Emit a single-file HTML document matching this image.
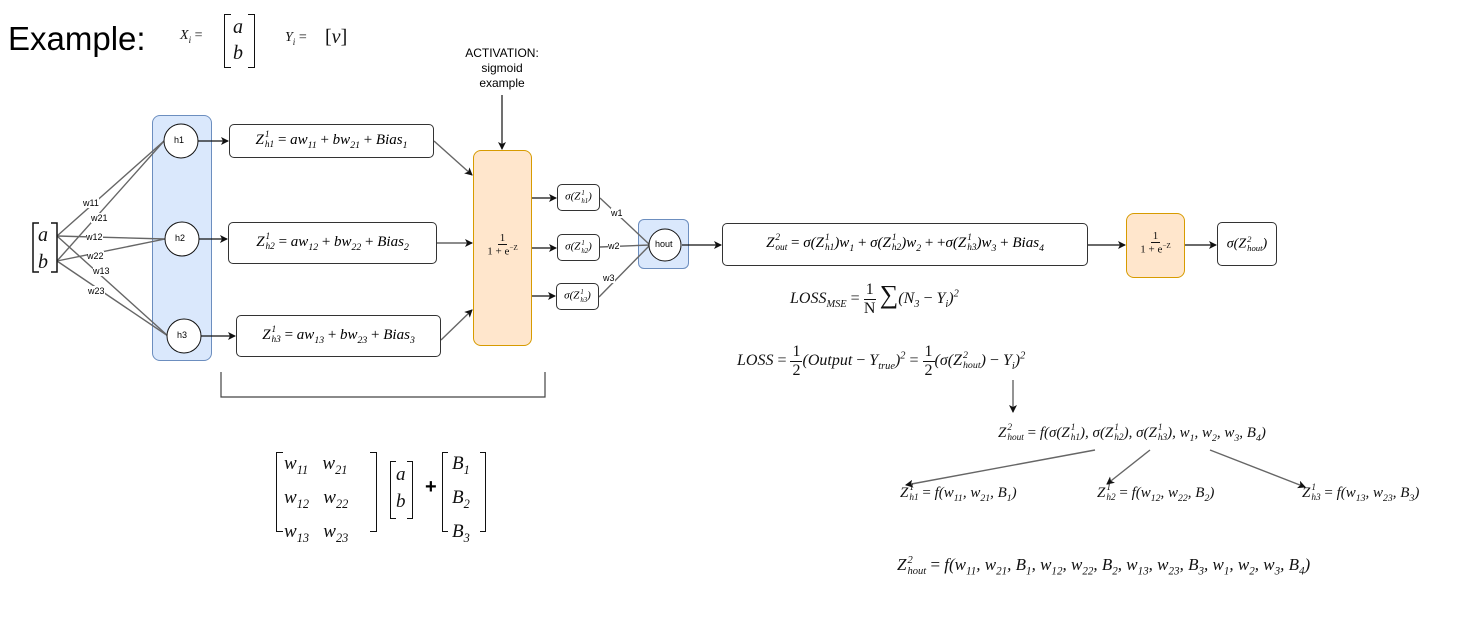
<!DOCTYPE html>
<html><head><meta charset="utf-8"><style>
body{margin:0;width:1458px;height:618px;background:#fff;position:relative;overflow:hidden;font-family:"Liberation Sans",sans-serif}
.a{position:absolute;white-space:nowrap}
.m{font-family:"Liberation Serif",serif;font-style:italic;color:#111}
.m sub,.m sup{font-size:65%}
.box{position:absolute;border:1px solid #333;border-radius:5px;background:#fff;display:flex;align-items:center;justify-content:center;font-family:"Liberation Serif",serif;font-style:italic;white-space:nowrap;box-sizing:border-box}
.box sub,.box sup{font-size:65%}
.up{font-style:normal}
.ss{display:inline-flex;flex-direction:column;vertical-align:middle;font-size:62%;line-height:1.05;margin-left:1px}
.fr{display:inline-flex;flex-direction:column;align-items:center;vertical-align:middle;font-style:normal;line-height:1.1}
.fr span:first-child{border-bottom:1px solid #111;padding:0 2px}
.lbl{position:absolute;font-size:9px;background:#fff;line-height:10px;font-family:"Liberation Sans",sans-serif}
</style></head><body>
<div class="a" style="left:8px;top:20px;font-size:33px">Example:</div>
<div class="a m" style="left:180px;top:28px;font-size:14px">X<sub>i</sub> <span class="up">=</span></div>
<div class="a" style="left:224px;top:14px;width:6px;height:52px;border:1.5px solid #111;border-right:none"></div>
<div class="a" style="left:248px;top:14px;width:6px;height:52px;border:1.5px solid #111;border-left:none"></div>
<div class="a m" style="left:233px;top:14px;font-size:20px;line-height:26px">a<br>b</div>
<div class="a m" style="left:285px;top:30px;font-size:14px">Y<sub>i</sub> <span class="up">=</span></div>
<div class="a m" style="left:325px;top:26px;font-size:20px"><span class="up">[</span>v<span class="up">]</span></div>

<div class="a" style="left:452px;top:46px;width:100px;text-align:center;font-size:12px;line-height:15px">ACTIVATION:<br>sigmoid<br>example</div>

<div class="a" style="left:152px;top:115px;width:60px;height:246px;background:#dae8fc;border:1px solid #6c8ebf;border-radius:8px;box-sizing:border-box"></div>
<div class="a" style="left:473px;top:150px;width:59px;height:196px;background:#ffe6cc;border:1px solid #d79b00;border-radius:8px;box-sizing:border-box"></div>
<div class="a" style="left:638px;top:219px;width:51px;height:50px;background:#dae8fc;border:1px solid #6c8ebf;border-radius:6px;box-sizing:border-box"></div>
<div class="a" style="left:1126px;top:213px;width:59px;height:65px;background:#ffe6cc;border:1px solid #d79b00;border-radius:8px;box-sizing:border-box"></div>

<svg class="a" style="left:0;top:0" width="1458" height="618">
<defs><marker id="ar" markerWidth="8" markerHeight="8" refX="7" refY="4" orient="auto" markerUnits="userSpaceOnUse"><path d="M0,0 L8,4 L0,8 L2,4z" fill="#111"/></marker></defs>
<g stroke="#666" stroke-width="1.4" fill="none">
<line x1="57" y1="236" x2="164" y2="141"/><line x1="57" y1="261" x2="164" y2="141"/>
<line x1="57" y1="236" x2="165" y2="239"/><line x1="57" y1="261" x2="165" y2="239"/>
<line x1="57" y1="236" x2="168" y2="336"/><line x1="57" y1="261" x2="168" y2="336"/>
<line x1="600" y1="198" x2="650" y2="245"/><line x1="600" y1="247" x2="650" y2="245"/><line x1="599" y1="297" x2="650" y2="245"/>
<line x1="434" y1="141" x2="472" y2="175" marker-end="url(#ar)"/>
<line x1="437" y1="243" x2="472" y2="243" marker-end="url(#ar)"/>
<line x1="441" y1="340" x2="472" y2="310" marker-end="url(#ar)"/>
<line x1="1095" y1="450" x2="906" y2="485" marker-end="url(#ar)"/>
<line x1="1150" y1="450" x2="1107" y2="484" marker-end="url(#ar)"/>
<line x1="1210" y1="450" x2="1305" y2="487" marker-end="url(#ar)"/>
<line x1="1013" y1="380" x2="1013" y2="412" marker-end="url(#ar)"/>
</g>
<g stroke="#111" stroke-width="1.2" fill="none">
<line x1="502" y1="95" x2="502" y2="149" marker-end="url(#ar)"/>
<line x1="198" y1="141" x2="228" y2="141" marker-end="url(#ar)"/>
<line x1="199" y1="239" x2="227" y2="239" marker-end="url(#ar)"/>
<line x1="201" y1="336" x2="235" y2="336" marker-end="url(#ar)"/>
<line x1="532" y1="198" x2="556" y2="198" marker-end="url(#ar)"/>
<line x1="532" y1="248" x2="556" y2="248" marker-end="url(#ar)"/>
<line x1="532" y1="296" x2="555" y2="296" marker-end="url(#ar)"/>
<line x1="682" y1="245" x2="721" y2="245" marker-end="url(#ar)"/>
<line x1="1088" y1="245" x2="1125" y2="245" marker-end="url(#ar)"/>
<line x1="1185" y1="245" x2="1216" y2="245" marker-end="url(#ar)"/>
<polyline points="221,372 221,397 545,397 545,372" stroke="#444"/>
<path d="M39,223 H33 V272 H39 M51,223 H57 V272 H51" stroke-width="1.5"/>
</g>
<g fill="#fff" stroke="#111" stroke-width="1">
<circle cx="181" cy="141" r="17"/><circle cx="182" cy="239" r="17"/><circle cx="184" cy="336" r="17"/>
<circle cx="665" cy="245" r="16"/>
</g>
</svg>
<div class="a m" style="left:38px;top:222px;font-size:20px;line-height:27px">a<br>b</div>
<div class="a" style="left:174px;top:135px;font-size:9px">h1</div>
<div class="a" style="left:175px;top:233px;font-size:9px">h2</div>
<div class="a" style="left:177px;top:330px;font-size:9px">h3</div>
<div class="a" style="left:655px;top:239px;font-size:9px">hout</div>
<div class="lbl" style="left:83px;top:198px">w11</div>
<div class="lbl" style="left:91px;top:213px">w21</div>
<div class="lbl" style="left:86px;top:232px">w12</div>
<div class="lbl" style="left:87px;top:251px">w22</div>
<div class="lbl" style="left:93px;top:266px">w13</div>
<div class="lbl" style="left:88px;top:286px">w23</div>
<div class="lbl" style="left:611px;top:208px">w1</div>
<div class="lbl" style="left:608px;top:241px">w2</div>
<div class="lbl" style="left:603px;top:273px">w3</div>

<div class="box" style="left:229px;top:124px;width:205px;height:34px;font-size:15px"><span>Z<span class="ss"><span>1</span><span>h1</span></span> <span class="up">=</span> aw<sub>11</sub> <span class="up">+</span> bw<sub>21</sub> <span class="up">+</span> Bias<sub>1</sub></span></div>
<div class="box" style="left:228px;top:222px;width:209px;height:42px;font-size:15px"><span>Z<span class="ss"><span>1</span><span>h2</span></span> <span class="up">=</span> aw<sub>12</sub> <span class="up">+</span> bw<sub>22</sub> <span class="up">+</span> Bias<sub>2</sub></span></div>
<div class="box" style="left:236px;top:315px;width:205px;height:42px;font-size:15px"><span>Z<span class="ss"><span>1</span><span>h3</span></span> <span class="up">=</span> aw<sub>13</sub> <span class="up">+</span> bw<sub>23</sub> <span class="up">+</span> Bias<sub>3</sub></span></div>
<div class="a m" style="left:473px;top:232px;width:59px;text-align:center;font-size:11px"><span class="fr"><span>1</span><span>1 + e<sup>−Z</sup></span></span></div>
<div class="a m" style="left:1126px;top:230px;width:59px;text-align:center;font-size:11px"><span class="fr"><span>1</span><span>1 + e<sup>−Z</sup></span></span></div>
<div class="box" style="left:557px;top:184px;width:43px;height:27px;font-size:11px"><span>σ(Z<span class="ss"><span>1</span><span>h1</span></span>)</span></div>
<div class="box" style="left:557px;top:234px;width:43px;height:27px;font-size:11px"><span>σ(Z<span class="ss"><span>1</span><span>h2</span></span>)</span></div>
<div class="box" style="left:556px;top:283px;width:43px;height:27px;font-size:11px"><span>σ(Z<span class="ss"><span>1</span><span>h3</span></span>)</span></div>
<div class="box" style="left:722px;top:223px;width:366px;height:43px;font-size:15px"><span>Z<span class="ss"><span>2</span><span>out</span></span> <span class="up">=</span> σ(Z<span class="ss"><span>1</span><span>h1</span></span>)w<sub>1</sub> <span class="up">+</span> σ(Z<span class="ss"><span>1</span><span>h2</span></span>)w<sub>2</sub> <span class="up">+ +</span>σ(Z<span class="ss"><span>1</span><span>h3</span></span>)w<sub>3</sub> <span class="up">+</span> Bias<sub>4</sub></span></div>
<div class="box" style="left:1217px;top:222px;width:60px;height:44px;font-size:14px"><span>σ(Z<span class="ss"><span>2</span><span>hout</span></span>)</span></div>

<div class="a m" style="left:790px;top:280px;font-size:16px">LOSS<sub>MSE</sub> <span class="up">=</span> <span class="fr"><span>1</span><span>N</span></span> <span class="up" style="font-size:26px">∑</span>(N<sub>3</sub> <span class="up">−</span> Y<sub>i</sub>)<sup>2</sup></div>
<div class="a m" style="left:737px;top:343px;font-size:16px">LOSS <span class="up">=</span> <span class="fr"><span>1</span><span>2</span></span>(Output <span class="up">−</span> Y<sub>true</sub>)<sup>2</sup> <span class="up">=</span> <span class="fr"><span>1</span><span>2</span></span>(σ(Z<span class="ss"><span>2</span><span>hout</span></span>) <span class="up">−</span> Y<sub>i</sub>)<sup>2</sup></div>
<div class="a m" style="left:998px;top:424px;font-size:15px">Z<span class="ss"><span>2</span><span>hout</span></span> <span class="up">=</span> f(σ(Z<span class="ss"><span>1</span><span>h1</span></span>), σ(Z<span class="ss"><span>1</span><span>h2</span></span>), σ(Z<span class="ss"><span>1</span><span>h3</span></span>), w<sub>1</sub>, w<sub>2</sub>, w<sub>3</sub>, B<sub>4</sub>)</div>
<div class="a m" style="left:900px;top:484px;font-size:15px">Z<span class="ss"><span>1</span><span>h1</span></span> <span class="up">=</span> f(w<sub>11</sub>, w<sub>21</sub>, B<sub>1</sub>)</div>
<div class="a m" style="left:1097px;top:484px;font-size:15px">Z<span class="ss"><span>1</span><span>h2</span></span> <span class="up">=</span> f(w<sub>12</sub>, w<sub>22</sub>, B<sub>2</sub>)</div>
<div class="a m" style="left:1302px;top:484px;font-size:15px">Z<span class="ss"><span>1</span><span>h3</span></span> <span class="up">=</span> f(w<sub>13</sub>, w<sub>23</sub>, B<sub>3</sub>)</div>
<div class="a m" style="left:897px;top:555px;font-size:17px">Z<span class="ss"><span>2</span><span>hout</span></span> <span class="up">=</span> f(w<sub>11</sub>, w<sub>21</sub>, B<sub>1</sub>, w<sub>12</sub>, w<sub>22</sub>, B<sub>2</sub>, w<sub>13</sub>, w<sub>23</sub>, B<sub>3</sub>, w<sub>1</sub>, w<sub>2</sub>, w<sub>3</sub>, B<sub>4</sub>)</div>

<div class="a" style="left:276px;top:452px;width:6px;height:78px;border:1.5px solid #111;border-right:none"></div>
<div class="a" style="left:370px;top:452px;width:6px;height:78px;border:1.5px solid #111;border-left:none"></div>
<div class="a m" style="left:284px;top:450px;font-size:19px;line-height:27px">w<sub>11</sub>&nbsp;&nbsp;&nbsp;w<sub>21</sub><br>w<sub>12</sub>&nbsp;&nbsp;&nbsp;w<sub>22</sub><br>w<sub>13</sub>&nbsp;&nbsp;&nbsp;w<sub>23</sub></div>
<div class="a" style="left:390px;top:461px;width:5px;height:56px;border:1.5px solid #111;border-right:none"></div>
<div class="a" style="left:407px;top:461px;width:5px;height:56px;border:1.5px solid #111;border-left:none"></div>
<div class="a m" style="left:396px;top:461px;font-size:19px;line-height:27px">a<br>b</div>
<div class="a" style="left:425px;top:476px;font-size:20px;font-weight:bold">+</div>
<div class="a" style="left:442px;top:452px;width:5px;height:78px;border:1.5px solid #111;border-right:none"></div>
<div class="a" style="left:480px;top:452px;width:5px;height:78px;border:1.5px solid #111;border-left:none"></div>
<div class="a m" style="left:452px;top:450px;font-size:19px;line-height:27px">B<sub>1</sub><br>B<sub>2</sub><br>B<sub>3</sub></div>
</body></html>
